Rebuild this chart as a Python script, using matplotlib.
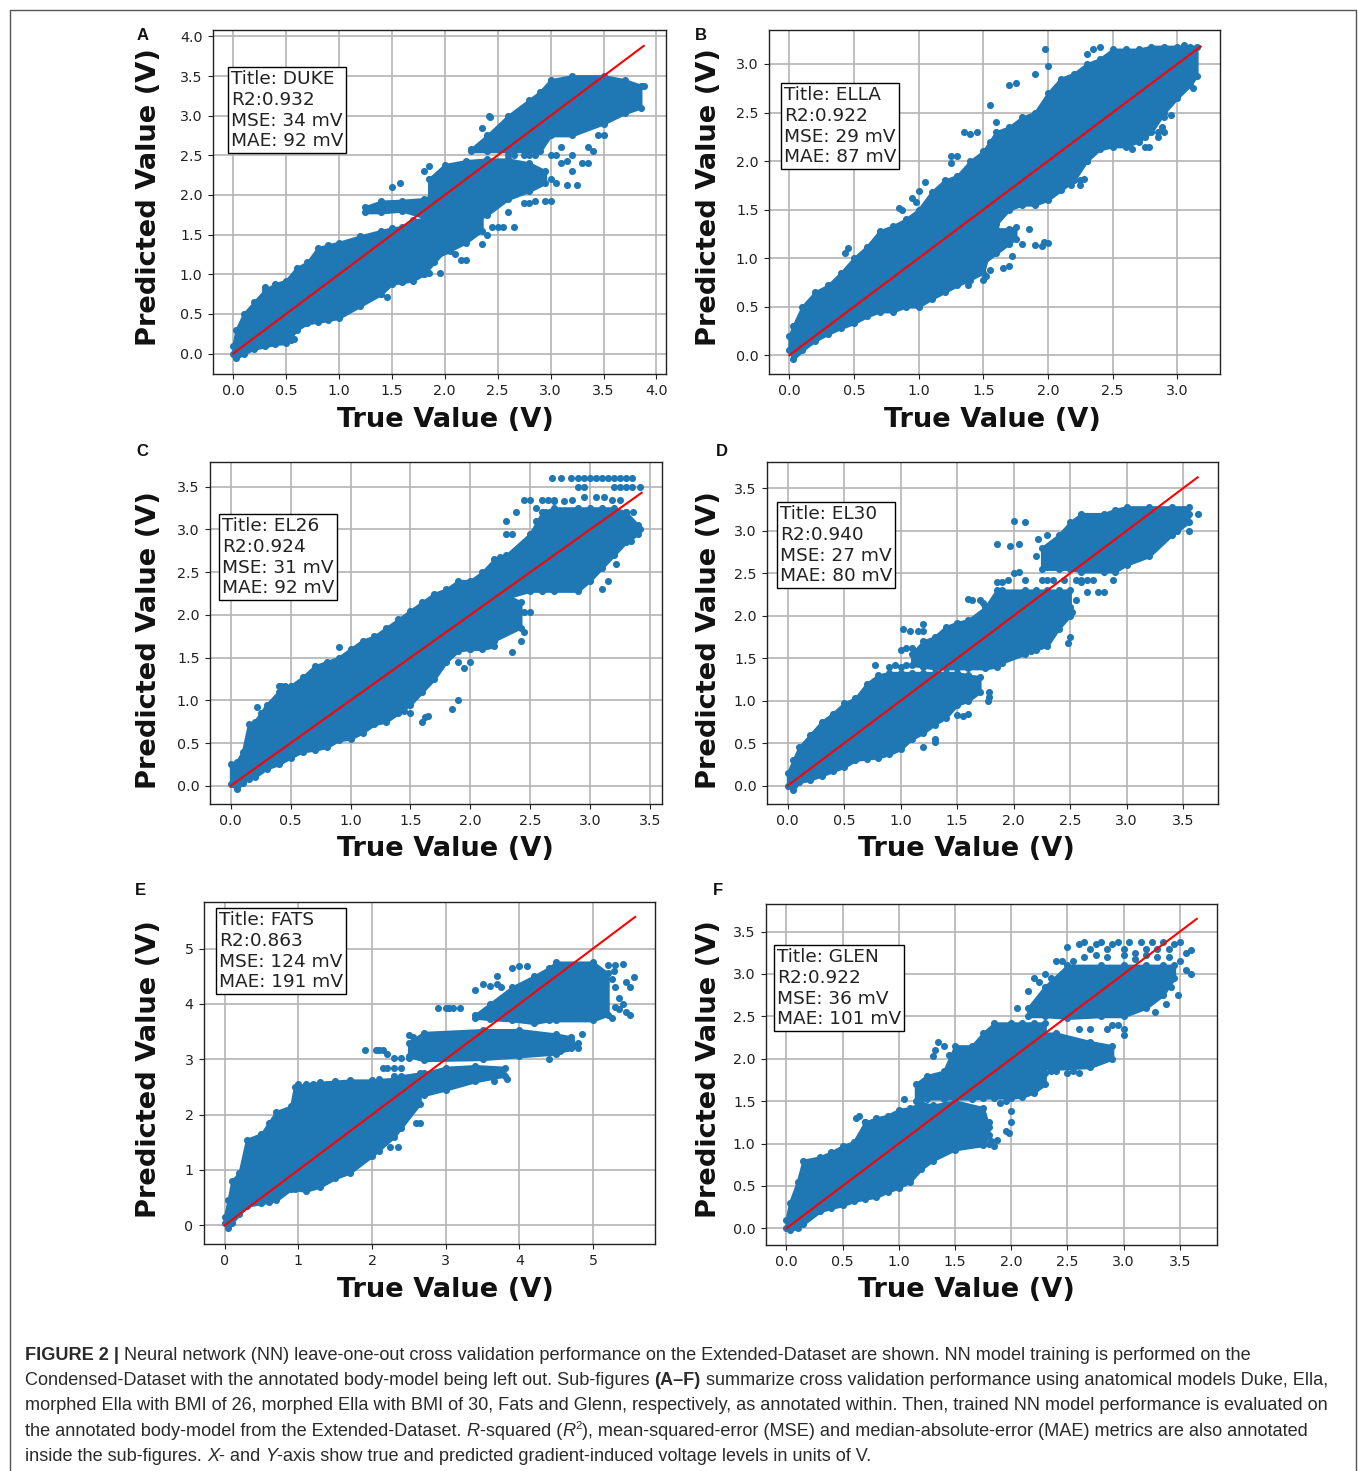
import matplotlib
matplotlib.use("Agg")
import matplotlib.pyplot as plt
from matplotlib.lines import Line2D

W, H = 1358, 1471
BLUE = "#1f77b4"

titles = ["DUKE", "ELLA", "EL26", "EL30", "FATS", "GLEN"]
r2 = ["0.932", "0.922", "0.924", "0.940", "0.863", "0.922"]
mse = ["34", "29", "31", "27", "124", "36"]
mae = ["92", "87", "92", "80", "191", "101"]
letters = ["A", "B", "C", "D", "E", "F"]
line_max = [3.88, 3.18, 3.43, 3.63, 5.57, 3.65]

# Envelopes of the dense point clouds: (true value, lowest predicted, highest predicted)
A_bands = [
    ([0, .03, .1, .2, .3, .4, .5, .6, .7, .8, .9, 1.0, 1.2, 1.4, 1.5, 1.6, 1.7, 1.8, 1.9, 2.0, 2.05],
     [0, -.06, .0, .06, .09, .12, .13, .3, .38, .4, .42, .45, .6, .75, .88, .9, .92, 1.0, 1.15, 1.3, 1.5],
     [.1, .3, .5, .65, .8, .88, .92, 1.08, 1.15, 1.33, 1.37, 1.4, 1.48, 1.55, 1.58, 1.6, 1.68, 1.7, 1.75, 1.8, 1.8]),
    ([1.25, 1.4, 1.6, 1.8, 2.0], [1.78, 1.78, 1.8, 1.72, 1.65], [1.85, 1.92, 1.93, 1.95, 2.05]),
    ([1.85, 2.0, 2.2, 2.4, 2.6, 2.8, 2.95], [1.95, 1.6, 1.65, 1.75, 1.95, 2.05, 2.15], [2.2, 2.38, 2.43, 2.45, 2.45, 2.4, 2.3]),
    ([1.9, 2.05, 2.2, 2.35], [1.2, 1.3, 1.4, 1.55], [1.7, 1.75, 1.75, 1.75]),
    ([2.25, 2.4, 2.6, 2.8, 2.9, 3.0, 3.2, 3.5, 3.7, 3.85],
     [2.55, 2.55, 2.55, 2.55, 2.55, 2.75, 2.75, 2.9, 3.03, 3.1],
     [2.58, 2.75, 3.0, 3.2, 3.3, 3.45, 3.5, 3.5, 3.45, 3.38]),
]
A_dots_x = [.55, .58, .62, .3, 2.35, 2.42, 2.43, 2.6, 2.75, 2.8, 2.85, 3.0, 3.05, 3.1, 3.15, 3.2, 3.3, 3.35,
            3.15, 3.25, 3.0, 3.05, 2.75, 2.8, 2.85, 2.95, 3.0, 2.45, 2.5, 2.55, 2.65, 2.6, 2.4, 2.35, 2.2, 2.15, 1.5, 1.58, 1.8, 1.85,
            3.7, 3.75, 3.78, 3.45, 3.5, 1.3, 1.4, 1.45, 1.95, 1.85, 1.8, 2.1, 2.5, 2.65, 2.9, 3.1, 3.2, 2.35, 3.35, 3.4, 3.75, 3.88]
A_dots_y = [.17, .18, .5, .84, 2.85, 3.0, 2.98, 2.5, 2.5, 2.5, 2.5, 2.5, 2.5, 2.4, 2.43, 2.5, 2.4, 2.4,
            2.13, 2.13, 2.2, 2.15, 1.9, 1.9, 1.92, 1.92, 1.92, 1.6, 1.6, 1.6, 1.6, 1.78, 1.5, 1.38, 1.18, 1.18, 2.1, 2.15, 2.3, 2.37,
            3.1, 3.13, 3.13, 2.75, 2.75, .8, .75, .72, 1.02, 1.02, 1.0, 1.25, 2.4, 2.5, 2.2, 2.6, 2.3, 2.6, 2.6, 2.55, 3.35, 3.38]

B_bands = [
    ([0, .03, .1, .2, .3, .4, .5, .6, .7, .8, .9, 1.0, 1.1, 1.2, 1.3, 1.4, 1.5, 1.55, 1.6, 1.7, 1.8, 1.9, 2.0, 2.1, 2.2, 2.3, 2.4, 2.5, 2.6, 2.7, 2.8, 2.9, 3.0, 3.1, 3.15],
     [.05, -.04, .05, .15, .22, .28, .33, .4, .45, .45, .5, .5, .58, .65, .72, .78, .85, 1.1, 1.35, 1.5, 1.55, 1.55, 1.6, 1.7, 1.8, 2.0, 2.12, 2.15, 2.15, 2.2, 2.3, 2.5, 2.65, 2.78, 2.88],
     [.2, .3, .5, .65, .72, .85, 1.0, 1.12, 1.28, 1.33, 1.4, 1.5, 1.68, 1.8, 1.85, 2.0, 2.1, 2.2, 2.3, 2.35, 2.45, 2.5, 2.7, 2.85, 2.9, 3.0, 3.05, 3.15, 3.15, 3.15, 3.18, 3.18, 3.18, 3.18, 3.18]),
    ([1.5, 1.6, 1.7, 1.75], [.95, 1.05, 1.15, 1.2], [1.25, 1.3, 1.3, 1.32]),
]
B_dots_x = [1.0, 1.98, 2.0, 1.7, 1.75, 1.35, 1.4, 1.45, 1.55, 1.6, 1.25, 1.25, 1.3, .85, .87, .95, .98, 1.05, 1.9, 1.9, 1.95, 2.2, 2.25, 2.3, 2.78,
            2.85, 2.88, 2.9, 2.95, 3.05, 1.65, 1.7, 1.72, 1.97, 2.0, 2.28, 2.25, 2.2, 2.3, 3.1,
            .43, .45, 1.5, 1.52, 1.4, 1.38, 1.55, 1.8, 1.85, 2.75, 2.7, 2.85, 2.9, 2.82, 2.4, 2.35, 2.5, 2.55, 2.6, 2.65, 2.75, 3.12, 2.18]
B_dots_y = [1.69, 3.15, 2.98, 2.78, 2.8, 2.3, 2.28, 2.3, 2.58, 2.4, 2.05, 1.98, 2.05, 1.52, 1.5, 1.62, 1.58, 1.78, 2.9, 1.14, 1.13, 1.85, 1.8, 2.0, 2.15,
            2.25, 2.35, 2.45, 2.47, 3.2, .9, .92, 1.02, 1.17, 1.16, 1.82, 1.75, 2.0, 3.1, 2.85,
            1.05, 1.1, .78, .82, .77, .72, .88, 1.15, 1.3, 2.25, 2.35, 2.3, 2.3, 2.4, 3.18, 3.15, 3.05, 3.0, 3.05, 2.12, 2.15, 2.75, 1.75]

C_bands = [
    ([0, .05, .1, .15, .2, .3, .4, .5, .6, .7, .8, .9, 1.0, 1.1, 1.2, 1.3, 1.4, 1.5, 1.6, 1.7, 1.8, 1.9, 2.0, 2.1, 2.2, 2.25, 2.3, 2.5, 2.6, 2.7, 2.9, 3.0, 3.1, 3.2, 3.3, 3.4],
     [.02, -.04, .03, .08, .1, .2, .25, .33, .4, .42, .45, .53, .55, .62, .72, .75, .85, .95, 1.1, 1.25, 1.45, 1.58, 1.6, 1.6, 1.63, 1.95, 2.2, 2.28, 2.28, 2.28, 2.28, 2.4, 2.55, 2.7, 2.85, 2.95],
     [.25, .28, .4, .72, .75, .95, 1.1, 1.17, 1.27, 1.4, 1.45, 1.5, 1.6, 1.7, 1.75, 1.85, 1.95, 2.05, 2.15, 2.25, 2.3, 2.4, 2.4, 2.5, 2.65, 2.68, 2.7, 2.95, 3.2, 3.25, 3.25, 3.25, 3.25, 3.25, 3.2, 3.05]),
    ([2.0, 2.2, 2.42], [1.6, 1.7, 1.85], [2.3, 2.3, 2.15]),
]
C_dots_x = [.22, .25, .3, .9, .4, .42, .45, .38, 1.1, 1.35, 1.4, 1.45, 1.5, 1.6, 1.62, 1.65, 1.9, 1.95, 2.0, 2.1, 2.15, 2.3, 2.35, 2.45, 2.5,
            2.35, 2.42, 2.45, 2.38, 2.68, 2.76, 2.84, 2.9, 2.95, 3.0, 3.05, 3.1, 3.15, 3.2, 3.25, 3.3, 3.35, 2.9, 2.95, 3.2, 3.25, 3.3, 3.35, 3.42,
            2.45, 2.5, 2.55, 3.38, 3.42, 1.85, 1.9, 2.15, 2.2, 2.3, 2.38,
            2.6, 2.65, 2.7, 2.78, 2.85, 2.95, 3.05, 3.12, 3.18, 3.25, 2.55, 2.62, 2.7, 3.3, 3.36, 3.34, 3.1, 3.15, 3.22]
C_dots_y = [.92, .85, .85, 1.62, 1.17, 1.17, 1.17, 1.03, 1.62, 1.57, .93, .88, .85, .75, .8, .82, 1.45, 1.38, 1.45, 2.45, 2.3, 2.95, 2.95, 3.35, 3.35,
            1.57, 1.7, 1.8, 2.0, 3.6, 3.6, 3.6, 3.6, 3.6, 3.6, 3.6, 3.6, 3.6, 3.6, 3.6, 3.6, 3.6, 3.5, 3.5, 3.5, 3.5, 3.5, 3.5, 3.5,
            2.03, 2.03, 3.25, 3.0, 3.0, .9, 1.0, 1.9, 1.95, 3.1, 3.2,
            3.35, 3.35, 3.35, 3.33, 3.35, 3.38, 3.38, 3.38, 3.35, 3.35, 3.1, 3.2, 3.33, 3.2, 3.2, 2.87, 2.3, 2.4, 2.6]

D_bands = [
    ([0, .05, .1, .2, .3, .4, .5, .6, .7, .8, .9, 1.0, 1.1, 1.2, 1.3, 1.4, 1.5, 1.6, 1.7],
     [0, -.05, .04, .07, .12, .17, .22, .3, .32, .33, .37, .43, .55, .62, .72, .8, .95, 1.0, 1.1],
     [.15, .3, .45, .6, .75, .85, .97, 1.03, 1.2, 1.3, 1.33, 1.33, 1.33, 1.33, 1.33, 1.33, 1.33, 1.3, 1.28]),
    ([1.1, 1.2, 1.3, 1.4, 1.5, 1.6, 1.75, 1.85, 1.9, 2.1, 2.2, 2.3, 2.4, 2.5],
     [1.42, 1.4, 1.38, 1.38, 1.38, 1.38, 1.38, 1.4, 1.45, 1.55, 1.6, 1.65, 1.85, 2.0],
     [1.55, 1.7, 1.75, 1.87, 1.92, 1.95, 2.1, 2.3, 2.3, 2.3, 2.3, 2.3, 2.3, 2.3]),
    ([2.25, 2.4, 2.5, 2.6, 2.8, 2.9, 3.0, 3.2, 3.4, 3.55],
     [2.55, 2.55, 2.55, 2.52, 2.52, 2.52, 2.6, 2.7, 2.95, 3.1],
     [2.8, 2.95, 3.1, 3.2, 3.2, 3.25, 3.28, 3.28, 3.28, 3.28]),
]
D_dots_x = [.77, .9, .95, 1.0, 1.05, 1.0, 1.05, 1.1, 1.02, 1.08, 1.15, 1.2, 1.2, 1.3, 1.3, 1.2, 1.5, 1.55, 1.6, 1.78, 1.78, 1.77, 1.63, 1.6, 1.7, 1.73,
            1.85, 1.9, 1.95, 1.97, 2.1, 2.0, 2.05, 2.0, 2.05, 2.1, 2.25, 2.3, 2.35, 2.45, 2.55, 2.6, 2.65, 2.6, 2.7, 2.75, 2.8, 2.65, 2.88, 1.85, 2.15, 2.2, 3.63, 3.55, 3.45,
            2.2, 2.22, 2.3, 2.35, 2.5, 2.55, 2.52, 2.5, 2.48, 3.55, 3.5]
D_dots_y = [1.42, 1.4, 1.42, 1.4, 1.42, 1.6, 1.62, 1.62, 1.85, 1.82, 1.82, 1.82, 1.9, .55, .52, .46, .83, .82, .85, 1.1, 1.05, 1.0, 2.18, 2.2, 2.18, 2.15,
            2.85, 2.4, 2.42, 2.82, 3.1, 3.12, 2.85, 2.5, 2.52, 2.42, 2.42, 2.42, 2.42, 2.42, 2.42, 2.42, 2.42, 2.4, 2.42, 2.28, 2.28, 2.28, 2.42, 2.4, 1.58, 1.63, 3.2, 3.0, 3.0,
            2.7, 2.9, 2.95, 2.7, 2.1, 2.18, 2.05, 1.75, 1.68, 3.2, 3.15]

E_bands = [
    ([0, .05, .1, .2, .3, .5, .6, .7, .9, .95, 1.1, 1.3, 1.5, 1.7, 2.0, 2.3, 2.65],
     [.05, -.05, .05, .2, .35, .4, .42, .45, .65, .65, .62, .7, .85, .95, 1.25, 1.6, 2.2],
     [.15, .45, .8, .95, 1.55, 1.65, 1.85, 2.05, 2.15, 2.5, 2.55, 2.58, 2.6, 2.62, 2.62, 2.65, 2.75]),
    ([2.4, 2.7, 3.0, 3.4, 3.8], [2.4, 2.35, 2.45, 2.6, 2.7], [2.7, 2.75, 2.85, 2.88, 2.85]),
    ([2.5, 2.7, 3.5, 4.0, 4.5, 4.7], [3.05, 2.98, 3.0, 3.05, 3.1, 3.2], [3.3, 3.48, 3.53, 3.53, 3.45, 3.4]),
    ([3.4, 3.6, 3.9, 4.2, 4.4, 4.5, 5.0, 5.2], [3.75, 3.72, 3.7, 3.65, 3.7, 3.7, 3.7, 3.8], [3.8, 4.0, 4.3, 4.5, 4.65, 4.75, 4.75, 4.55]),
]
E_dots_x = [1.9, 2.05, 2.1, 2.15, 2.2, 2.3, 2.4, 2.5, 2.4, 2.3, 2.2, 2.15, 2.5, 2.55, 2.55, 2.9, 3.0, 3.05, 3.1, 3.2, 3.7, 3.75, 3.83, 3.65,
            3.4, 3.5, 3.6, 3.7, 3.9, 4.0, 4.1, 4.4, 4.5, 4.6, 4.7, 4.85, 4.8, 4.9, 5.0, 5.2, 5.3, 5.4, 5.45, 5.55, 5.5, 5.5, 5.45, 5.25, 5.35, 5.4,
            2.35, 2.25, 2.1, 1.95, 1.88, 2.0, 2.2, 2.4, 2.6, 2.65,
            5.25, 5.3, 5.35, 5.3, 5.28, 4.75, 4.8, 4.55, 4.65, 1.0, 1.2, 1.4, 2.1, 2.3]
E_dots_y = [3.17, 3.17, 3.17, 3.17, 3.1, 3.02, 3.02, 3.02, 2.85, 2.85, 2.85, 2.85, 3.43, 3.4, 3.25, 3.93, 3.93, 3.93, 3.93, 3.93, 4.5, 4.3, 2.65, 2.6,
            4.25, 4.35, 4.33, 4.35, 4.65, 4.68, 4.68, 3.0, 3.2, 3.3, 3.35, 3.45, 3.2, 4.7, 4.72, 4.7, 4.7, 4.72, 4.4, 4.48, 4.3, 3.8, 3.85, 3.75, 3.9, 4.0,
            1.42, 1.42, 1.35, 1.3, 1.3, 1.55, 1.65, 1.75, 1.85, 1.85,
            4.45, 4.3, 4.1, 3.95, 4.6, 3.25, 3.3, 3.15, 3.2, 2.55, 2.55, 2.55, 2.65, 2.7]

F_bands = [
    ([0, .03, .1, .15, .3, .4, .5, .6, .7, .8, .9, 1.0, 1.1, 1.2, 1.3, 1.5, 1.75, 1.8],
     [0, -.02, 0, .05, .2, .24, .27, .32, .35, .37, .43, .48, .55, .7, .8, .93, .98, 1.1],
     [.1, .3, .55, .8, .84, .9, .97, 1.02, 1.25, 1.3, 1.33, 1.4, 1.42, 1.48, 1.45, 1.5, 1.42, 1.2]),
    ([1.15, 1.25, 1.4, 1.5, 1.65, 1.75, 1.85, 2.0, 2.1, 2.2, 2.3],
     [1.5, 1.53, 1.53, 1.53, 1.53, 1.54, 1.54, 1.54, 1.55, 1.6, 1.7],
     [1.7, 1.8, 1.85, 2.15, 2.15, 2.3, 2.42, 2.42, 2.42, 2.42, 2.42]),
    ([2.0, 2.4, 2.7, 2.9], [1.9, 1.88, 1.9, 2.0], [2.3, 2.3, 2.2, 2.15]),
    ([2.15, 2.3, 2.5, 2.8, 3.0, 3.2, 3.35, 3.45],
     [2.5, 2.5, 2.48, 2.5, 2.5, 2.6, 2.75, 2.95],
     [2.6, 2.85, 3.1, 3.1, 3.1, 3.1, 3.1, 3.1]),
]
F_dots_x = [1.05, .62, .65, .7, 1.32, 1.3, 1.35, 1.4, 1.45, 1.8, 1.85, 1.82, 1.8, 1.87, 1.95, 1.98, 2.0, 2.0, 1.9, 1.95,
            2.5, 2.6, 2.65, 2.7, 2.75, 2.8, 2.85, 2.9, 2.95, 3.0, 3.05, 3.1, 3.15, 3.2, 3.25, 3.3, 3.35, 3.4, 3.45, 3.5, 3.55, 3.6,
            2.45, 2.55, 2.3, 2.35, 2.4, 2.2, 2.25, 2.15, 2.05, 2.6, 2.7, 2.85, 2.9, 2.95, 3.0, 3.0, 2.5, 2.55,
            2.65, 2.75, 2.85, 3.0, 3.1, 3.2, 3.3, 3.4, 3.5, 3.55, 3.6, 3.42, 3.48, 3.38, 3.28, 2.25, 2.3, 2.35, 2.4, 2.6]
F_dots_y = [1.52, 1.3, 1.32, 1.25, 2.1, 2.03, 2.2, 2.15, 2.05, 1.25, .97, 1.03, 1.0, 1.04, 1.15, 1.12, 1.25, 1.38, 1.48, 1.5,
            3.32, 3.35, 3.38, 3.3, 3.35, 3.38, 3.3, 3.35, 3.38, 3.3, 3.38, 3.25, 3.38, 3.3, 3.38, 3.3, 3.38, 3.3, 3.35, 3.38, 3.25, 3.28,
            3.15, 3.15, 3.0, 2.95, 3.15, 2.95, 2.9, 2.8, 2.6, 2.35, 2.35, 2.35, 2.4, 2.4, 2.35, 2.28, 1.83, 1.85,
            3.2, 3.22, 3.2, 3.22, 3.18, 3.22, 3.2, 3.2, 3.15, 3.05, 3.0, 2.85, 2.75, 2.65, 2.55, 1.83, 1.83, 1.85, 1.85, 1.83]

all_bands = [A_bands, B_bands, C_bands, D_bands, E_bands, F_bands]
all_dots_x = [A_dots_x, B_dots_x, C_dots_x, D_dots_x, E_dots_x, F_dots_x]
all_dots_y = [A_dots_y, B_dots_y, C_dots_y, D_dots_y, E_dots_y, F_dots_y]

# axes boxes in picture pixels: left, right, top, bottom
boxes = [(213, 666, 30, 374), (769, 1220, 30, 374), (210, 662, 462, 804),
         (767, 1218, 462, 804), (204, 655, 902, 1244), (766, 1217, 904, 1245)]
xlims = [(-.19, 4.09), (-.157, 3.33), (-.173, 3.60), (-.183, 3.81), (-.28, 5.84), (-.181, 3.83)]
ylims = [(-.257, 4.08), (-.193, 3.35), (-.214, 3.79), (-.215, 3.81), (-.337, 5.84), (-.196, 3.825)]
xticks = [[0, .5, 1, 1.5, 2, 2.5, 3, 3.5, 4], [0, .5, 1, 1.5, 2, 2.5, 3], [0, .5, 1, 1.5, 2, 2.5, 3, 3.5],
          [0, .5, 1, 1.5, 2, 2.5, 3, 3.5], [0, 1, 2, 3, 4, 5], [0, .5, 1, 1.5, 2, 2.5, 3, 3.5]]
yticks = [[0, .5, 1, 1.5, 2, 2.5, 3, 3.5, 4], [0, .5, 1, 1.5, 2, 2.5, 3], [0, .5, 1, 1.5, 2, 2.5, 3, 3.5],
          [0, .5, 1, 1.5, 2, 2.5, 3, 3.5], [0, 1, 2, 3, 4, 5], [0, .5, 1, 1.5, 2, 2.5, 3, 3.5]]
# note-box top-left corners, label centres, panel-letter positions (pixels)
notes = [(231, 70), (784, 86), (222, 517), (780, 505), (219, 911), (777, 948)]
xlabel_pos = [(445, 420), (992, 420), (445, 849), (966, 849), (445, 1290), (966, 1290)]
ylabel_pos = [(149, 197), (709, 197), (149, 640), (709, 640), (149, 1069), (709, 1069)]
letter_pos = [(137, 35), (695, 35), (136, 451), (716, 451), (135, 890), (713, 890)]

fig = plt.figure(figsize=(W / 100, H / 100), dpi=100)
fx = lambda p: p / W
fy = lambda p: 1 - p / H

fig.add_artist(Line2D([fx(9.5), fx(9.5), fx(1356), fx(1356)], [0, fy(9.5), fy(9.5), 0],
                      color="#555555", lw=1.0))

for i in range(6):
    l, r, t, b = boxes[i]
    ax = fig.add_axes([fx(l), fy(b), (r - l) / W, (b - t) / H])
    for xs, lo, hi in all_bands[i]:
        ax.fill_between(xs, lo, hi, color=BLUE, lw=2.0, zorder=2)
        ax.scatter(xs + xs, lo + hi, s=26, color=BLUE, linewidths=0, zorder=2)
    ax.scatter(all_dots_x[i], all_dots_y[i], s=26, color=BLUE, linewidths=0, zorder=2)
    ax.plot([0, line_max[i]], [0, line_max[i]], color="red", lw=1.5, zorder=3)
    ax.set_xlim(*xlims[i])
    ax.set_ylim(*ylims[i])
    ax.set_xticks(xticks[i])
    ax.set_yticks(yticks[i])
    if i == 4:
        ax.set_xticklabels([str(v) for v in xticks[i]])
        ax.set_yticklabels([str(v) for v in yticks[i]])
    else:
        ax.set_xticklabels([f"{v:.1f}" for v in xticks[i]])
        ax.set_yticklabels([f"{v:.1f}" for v in yticks[i]])
    ax.tick_params(labelsize=10.3, length=3.5, width=0.8, colors="#222222", pad=4)
    ax.grid(True, color="#b4b4b4", lw=1.2)
    ax.set_axisbelow(True)
    for s in ax.spines.values():
        s.set_linewidth(1.0)
        s.set_color("#222222")
    ax.set_xlabel("True Value (V)", fontsize=19.6, fontweight="bold", color="#111111")
    ax.set_ylabel("Predicted Value (V)", fontsize=19.6, fontweight="bold", color="#111111")
    ax.xaxis.set_label_coords(fx(xlabel_pos[i][0]), fy(xlabel_pos[i][1]), transform=fig.transFigure)
    ax.xaxis.label.set_verticalalignment("center")
    ax.yaxis.set_label_coords(fx(ylabel_pos[i][0]), fy(ylabel_pos[i][1]), transform=fig.transFigure)
    ax.yaxis.label.set_verticalalignment("center")
    note = f"Title: {titles[i]}\nR2:{r2[i]}\nMSE: {mse[i]} mV\nMAE: {mae[i]} mV"
    fig.text(fx(notes[i][0]), fy(notes[i][1]), note, fontsize=13.3, color="#222222", va="top", ha="left",
             linespacing=1.2,
             bbox=dict(facecolor="white", edgecolor="black", lw=1.0, boxstyle="square,pad=0.15"), zorder=10)
    fig.text(fx(letter_pos[i][0]), fy(letter_pos[i][1]), letters[i], fontsize=12, fontweight="bold",
             family="Liberation Sans", color="#111111", va="center", ha="left")

# Caption: runs of (text, weight, style, raised)
caption = [
    [("FIGURE 2 |", "bold", "normal", False), (" Neural network (NN) leave-one-out cross validation performance on the Extended-Dataset are shown. NN model training is performed on the", "normal", "normal", False)],
    [("Condensed-Dataset with the annotated body-model being left out. Sub-figures ", "normal", "normal", False), ("(A\u2013F)", "bold", "normal", False), (" summarize cross validation performance using anatomical models Duke, Ella,", "normal", "normal", False)],
    [("morphed Ella with BMI of 26, morphed Ella with BMI of 30, Fats and Glenn, respectively, as annotated within. Then, trained NN model performance is evaluated on", "normal", "normal", False)],
    [("the annotated body-model from the Extended-Dataset. ", "normal", "normal", False), ("R", "normal", "italic", False), ("-squared (", "normal", "normal", False), ("R", "normal", "italic", False), ("2", "normal", "normal", True), ("), mean-squared-error (MSE) and median-absolute-error (MAE) metrics are also annotated", "normal", "normal", False)],
    [("inside the sub-figures. ", "normal", "normal", False), ("X", "normal", "italic", False), ("- and ", "normal", "normal", False), ("Y", "normal", "italic", False), ("-axis show true and predicted gradient-induced voltage levels in units of V.", "normal", "normal", False)],
]
baselines = [1360, 1385, 1410, 1436, 1461]
renderer = fig.canvas.get_renderer()
SIZE = 13.05
for line, base in zip(caption, baselines):
    x = 25.0
    for text, weight, style, raised in line:
        t = fig.text(fx(x), fy(base - (7 if raised else 0)), text, fontsize=SIZE * (.62 if raised else 1),
                     fontweight=weight, fontstyle=style, family="Liberation Sans", color="#2a2a2a",
                     va="baseline", ha="left")
        x += t.get_window_extent(renderer).width

fig.savefig("out.png", dpi=100, facecolor="white")
